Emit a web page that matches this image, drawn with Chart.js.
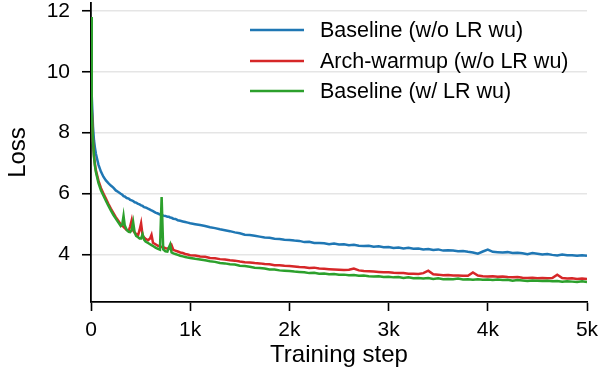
<!DOCTYPE html>
<html><head><meta charset="utf-8">
<script src="https://cdn.jsdelivr.net/npm/chart.js@4.4.0/dist/chart.umd.min.js"></script>
<style>html,body{margin:0;padding:0;background:#fff;}#wrap{width:599px;height:378px;}</style>
</head><body><div id="wrap"><canvas id="c" width="599" height="378"></canvas></div>
<script>
const steps = [0,5,10,20,30,40,50,75,100,125,150,175,200,225,250,275,300,
315,328,340,360,380,395,410,425,440,455,475,490,505,520,535,550,575,595,610,625,650,675,695,712,728,750,770,785,798,812,830,850,875,900,925,950,975,1000,
1050,1100,1150,1200,1250,1300,1350,1400,1450,1500,
1550,1600,1650,1700,1750,1800,1850,1900,1950,2000,
2050,2100,2150,2200,2250,2300,2350,2400,2450,2500,
2550,2600,2650,2700,2750,2800,2850,2900,2950,3000,
3050,3100,3150,3200,3250,3300,3350,3400,3450,3500,
3550,3600,3650,3700,3750,3800,3850,3900,3950,4000,
4050,4100,4150,4200,4250,4300,4350,4400,4450,4500,
4550,4600,4650,4700,4750,4800,4850,4900,4950,5000];

const baselineNoWu = [11.8,10.3,9.2,8.2,7.75,7.5,7.3,6.95,6.72,6.55,6.43,6.34,6.26,6.19,6.1,6.05,5.99,
5.96,5.91,5.9,5.85,5.83,5.79,5.77,5.75,5.71,5.70,5.66,5.64,5.61,5.59,5.55,5.54,5.50,5.47,5.44,5.42,5.37,5.34,5.31,5.30,5.27,5.26,5.23,5.23,5.21,5.20,5.17,5.16,5.12,5.10,5.08,5.06,5.04,5.02,
4.99,4.96,4.93,4.89,4.86,4.82,4.79,4.76,4.72,4.69,
4.64,4.63,4.61,4.58,4.55,4.54,4.51,4.50,4.48,4.47,
4.45,4.44,4.40,4.41,4.37,4.37,4.36,4.33,4.35,4.32,
4.33,4.30,4.31,4.28,4.27,4.28,4.25,4.26,4.23,4.24,
4.21,4.22,4.19,4.21,4.18,4.19,4.16,4.17,4.14,4.16,
4.12,4.13,4.12,4.10,4.11,4.08,4.06,4.02,4.09,4.15,
4.08,4.07,4.06,4.07,4.04,4.05,4.03,4.00,4.04,4.02,
3.99,4.01,3.98,3.96,3.99,3.97,3.97,3.95,3.97,3.95];

const archWarmupNoWu = [11.8,10.0,8.8,7.75,7.25,6.95,6.75,6.42,6.18,6.0,5.83,5.66,5.5,5.36,5.22,5.1,4.98,
4.94,4.90,4.86,4.80,4.77,4.92,5.12,4.78,4.71,4.67,4.63,4.80,5.02,4.62,4.55,4.51,4.46,4.52,4.64,4.38,4.33,4.28,4.26,4.24,4.23,4.20,4.19,4.18,4.22,4.30,4.14,4.12,4.09,4.06,4.04,4.01,3.99,3.97,
3.96,3.93,3.92,3.88,3.87,3.84,3.83,3.80,3.79,3.76,
3.74,3.73,3.71,3.70,3.68,3.67,3.64,3.64,3.62,3.61,
3.60,3.58,3.57,3.55,3.56,3.53,3.52,3.51,3.50,3.49,
3.48,3.49,3.53,3.47,3.45,3.44,3.43,3.42,3.41,3.41,
3.39,3.38,3.38,3.36,3.36,3.35,3.38,3.46,3.34,3.33,
3.31,3.32,3.30,3.30,3.29,3.29,3.40,3.30,3.28,3.27,
3.28,3.26,3.27,3.25,3.24,3.25,3.23,3.22,3.23,3.21,
3.22,3.21,3.22,3.33,3.22,3.20,3.21,3.19,3.20,3.19];

const baselineWu = [11.8,9.9,8.7,7.7,7.2,6.9,6.7,6.35,6.1,5.93,5.76,5.6,5.44,5.3,5.17,5.05,4.93,
4.98,5.26,4.95,4.80,4.74,4.73,4.80,5.06,4.72,4.60,4.56,4.52,4.52,4.66,4.48,4.42,4.37,4.33,4.30,4.27,4.22,4.18,4.15,5.88,4.16,4.10,4.09,4.22,4.32,4.06,4.03,4.01,3.98,3.95,3.93,3.91,3.89,3.88,
3.85,3.83,3.80,3.77,3.75,3.71,3.70,3.67,3.66,3.62,
3.61,3.59,3.56,3.55,3.53,3.50,3.50,3.47,3.46,3.45,
3.43,3.42,3.41,3.38,3.39,3.36,3.37,3.34,3.35,3.33,
3.33,3.31,3.32,3.29,3.30,3.28,3.27,3.28,3.25,3.26,
3.24,3.25,3.22,3.24,3.21,3.22,3.20,3.22,3.19,3.21,
3.18,3.19,3.18,3.20,3.17,3.18,3.16,3.18,3.16,3.17,
3.15,3.17,3.15,3.16,3.13,3.15,3.14,3.12,3.14,3.13,
3.12,3.13,3.11,3.12,3.10,3.11,3.10,3.09,3.11,3.09];

const seriesLabels = ['Baseline (w/o LR wu)', 'Arch-warmup (w/o LR wu)', 'Baseline (w/ LR wu)'];
const seriesColors = ['#1f77b4', '#d62728', '#2ca02c'];
const xTickValues = [0, 1000, 2000, 3000, 4000, 5000];
const xTickLabels = ['0', '1k', '2k', '3k', '4k', '5k'];
const yTickValues = [4, 6, 8, 10, 12];
const yTickLabels = ['4', '6', '8', '10', '12'];
const xTitle = 'Training step';
const yTitle = 'Loss';

const FONT = "'Liberation Sans', Arial, sans-serif";
const seriesValues = [baselineNoWu, archWarmupNoWu, baselineWu];

const datasets = seriesValues.map((vals, i) => ({
  label: seriesLabels[i],
  data: steps.map((s, j) => ({x: s, y: vals[j]})),
  borderColor: seriesColors[i],
  backgroundColor: seriesColors[i],
  borderWidth: 2.5,
  pointRadius: 0,
  tension: 0,
  fill: false,
  order: 2 - i
}));

const legendPlugin = {
  id: 'mplLegend',
  afterDraw(chart) {
    const ctx = chart.ctx;
    ctx.save();
    ctx.font = "21.5px " + FONT;
    ctx.textBaseline = 'middle';
    ctx.textAlign = 'left';
    const rows = [30, 61, 91];
    seriesLabels.forEach((lab, i) => {
      ctx.strokeStyle = seriesColors[i];
      ctx.lineWidth = 2.5;
      ctx.beginPath();
      ctx.moveTo(250, rows[i]);
      ctx.lineTo(304, rows[i]);
      ctx.stroke();
      ctx.fillStyle = '#000';
      ctx.fillText(lab, 320, rows[i] + 1);
    });
    ctx.restore();
  }
};

function noPad(s) { s.paddingTop = 0; s.paddingBottom = 0; s.paddingLeft = 0; s.paddingRight = 0; }

new Chart(document.getElementById('c'), {
  type: 'line',
  data: { datasets },
  options: {
    responsive: false,
    animation: false,
    layout: { padding: { top: 3, right: 12, left: 0, bottom: 0 } },
    plugins: { legend: { display: false }, tooltip: { enabled: false } },
    scales: {
      x: {
        type: 'linear', min: 0, max: 5000,
        afterBuildTicks: (s) => { s.ticks = xTickValues.map(v => ({value: v})); },
        afterFit: (s) => { s.height = 76; noPad(s); },
        ticks: { callback: (v) => xTickLabels[xTickValues.indexOf(v)], color: '#000', font: { family: FONT, size: 21 }, padding: 7, maxRotation: 0, autoSkip: false },
        grid: { drawOnChartArea: false, drawTicks: true, tickLength: 9, tickColor: '#000', tickWidth: 1.6 },
        border: { display: true, color: '#000', width: 1.8 },
        title: { display: true, text: xTitle, color: '#000', font: { family: FONT, size: 24 }, padding: { top: 0, bottom: 8 } }
      },
      y: {
        type: 'linear', min: 2.43, max: 12.263,
        afterBuildTicks: (s) => { s.ticks = yTickValues.map(v => ({value: v})); },
        afterFit: (s) => { s.width = 91; noPad(s); },
        ticks: { callback: (v) => yTickLabels[yTickValues.indexOf(v)], color: '#000', font: { family: FONT, size: 21 }, padding: 12, autoSkip: false },
        grid: { color: '#e5e5e5', lineWidth: 1.5, drawOnChartArea: true, drawTicks: true, tickLength: 9, tickColor: '#000', tickWidth: 1.6 },
        border: { display: true, color: '#000', width: 1.8 },
        title: { display: true, text: yTitle, color: '#000', font: { family: FONT, size: 24 }, padding: { top: 4, bottom: 0 } }
      }
    }
  },
  plugins: [legendPlugin]
});
</script>
</body></html>
